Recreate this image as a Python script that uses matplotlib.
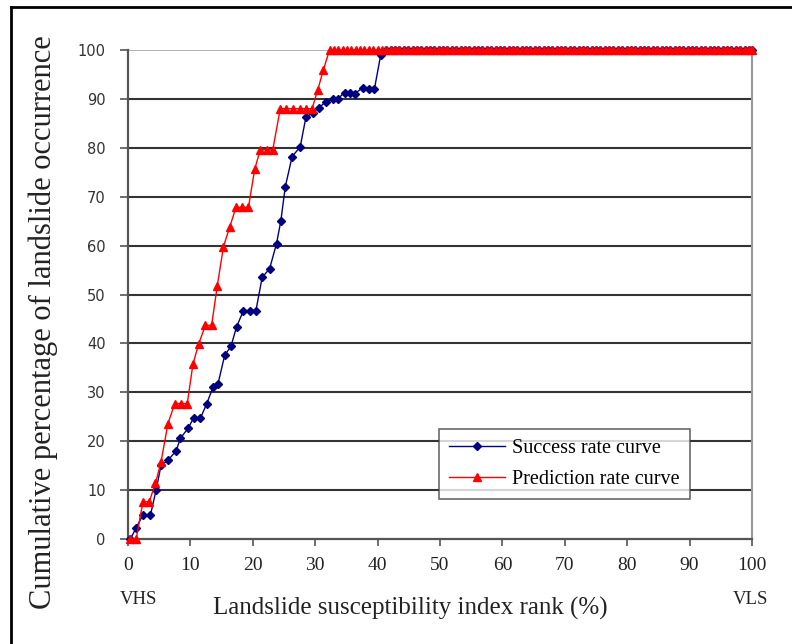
import matplotlib
matplotlib.use("Agg")
import matplotlib.pyplot as plt
from matplotlib.lines import Line2D

# ---------------------------------------------------------------------------
# data (rank %, cumulative %)
# ---------------------------------------------------------------------------

# flat 100 % segment shared by both curves (marker positions along the top)
top_rank = [32.3, 33.0, 33.7, 34.4, 35.1, 35.8, 36.5, 37.2, 37.9, 38.6, 39.3,
            40.0, 40.7, 41.4, 42.1, 42.8, 43.5, 44.2, 44.9, 45.6, 46.3,
            47.0, 47.7, 48.4, 49.1, 49.8, 50.5, 51.2, 51.9, 52.6, 53.3,
            54.0, 54.7, 55.4, 56.1, 56.8, 57.5, 58.2, 58.9, 59.6, 60.3,
            61.0, 61.7, 62.4, 63.1, 63.8, 64.5, 65.2, 65.9, 66.6, 67.3,
            68.0, 68.7, 69.4, 70.1, 70.8, 71.5, 72.2, 72.9, 73.6, 74.3,
            75.0, 75.7, 76.4, 77.1, 77.8, 78.5, 79.2, 79.9, 80.6, 81.3,
            82.0, 82.7, 83.4, 84.1, 84.8, 85.5, 86.2, 86.9, 87.6, 88.3,
            89.0, 89.7, 90.4, 91.1, 91.8, 92.5, 93.2, 93.9, 94.6, 95.3,
            96.0, 96.7, 97.4, 98.1, 98.8, 99.5, 100.0]
top_value = [100, 100, 100, 100, 100, 100, 100, 100, 100, 100, 100,
             100, 100, 100, 100, 100, 100, 100, 100, 100, 100,
             100, 100, 100, 100, 100, 100, 100, 100, 100, 100,
             100, 100, 100, 100, 100, 100, 100, 100, 100, 100,
             100, 100, 100, 100, 100, 100, 100, 100, 100, 100,
             100, 100, 100, 100, 100, 100, 100, 100, 100, 100,
             100, 100, 100, 100, 100, 100, 100, 100, 100, 100,
             100, 100, 100, 100, 100, 100, 100, 100, 100, 100,
             100, 100, 100, 100, 100, 100, 100, 100, 100, 100,
             100, 100, 100, 100, 100, 100, 100]

# success rate curve (rising part)
success_rank = [0.4, 1.3, 2.4, 3.6, 4.5, 5.3, 6.4, 7.7, 8.4, 9.6,
                10.5, 11.6, 12.6, 13.6, 14.4, 15.5, 16.5, 17.4, 18.5, 19.5,
                20.5, 21.5, 22.7, 23.8, 24.5, 25.2, 26.3, 27.6, 28.5, 29.6,
                30.6, 31.7, 32.8, 33.6, 34.7, 35.5, 36.3, 37.6, 38.7, 39.5,
                40.5]
success_value = [0, 2.3, 4.9, 4.9, 10.0, 15.1, 16.1, 18.0, 20.6, 22.6,
                 24.7, 24.7, 27.6, 31.0, 31.6, 37.6, 39.4, 43.4, 46.7, 46.7,
                 46.7, 53.5, 55.3, 60.4, 65.1, 72.0, 78.2, 80.2, 86.2, 87.2,
                 88.2, 89.4, 90.0, 90.0, 91.3, 91.3, 91.0, 92.3, 92.1, 92.1,
                 99.0]

# prediction rate curve (rising part)
prediction_rank = [0.4, 1.3, 2.4, 3.4, 4.4, 5.3, 6.4, 7.5, 8.5, 9.5,
                   10.4, 11.3, 12.4, 13.4, 14.3, 15.3, 16.3, 17.3, 18.3, 19.3,
                   20.3, 21.2, 22.2, 23.2, 24.4, 25.4, 26.4, 27.5, 28.5, 29.5,
                   30.4, 31.3]
prediction_value = [0, 0, 7.6, 7.6, 11.4, 15.8, 23.6, 27.7, 27.7, 27.7,
                    35.7, 39.8, 43.7, 43.7, 51.7, 59.8, 63.8, 67.8, 67.8, 67.8,
                    75.6, 79.6, 79.6, 79.6, 88.0, 88.0, 88.0, 88.0, 88.0, 88.0,
                    91.8, 95.9]

x_ticks = [0, 10, 20, 30, 40, 50, 60, 70, 80, 90, 100]
y_ticks = [0, 10, 20, 30, 40, 50, 60, 70, 80, 90, 100]

SERIF = ["Liberation Serif", "DejaVu Serif"]

# ---------------------------------------------------------------------------
# figure
# ---------------------------------------------------------------------------

fig = plt.figure(figsize=(7.92, 6.44), dpi=100)
ax = fig.add_axes([128 / 792, 1 - 539 / 644, 624 / 792, 489 / 644])

succ_x = success_rank + top_rank[13:]
succ_y = success_value + top_value[13:]
pred_x = prediction_rank + top_rank
pred_y = prediction_value + top_value

ax.plot(succ_x, succ_y, color="#000080", lw=1.0, marker="D", ms=4.2,
        mec="#000080", mfc="#000080", label="Success rate curve", zorder=3,
        clip_on=False)
ax.plot(pred_x, pred_y, color="#ff0000", lw=1.0, marker="^", ms=6,
        mec="#ff0000", mfc="#ff0000", label="Prediction rate curve", zorder=4,
        clip_on=False)

ax.set_xlim(0, 100)
ax.set_ylim(0, 100)
ax.set_xticks(x_ticks)
ax.set_yticks(y_ticks)

# horizontal gridlines only (excel style)
for v in y_ticks[1:-1]:
    ax.axhline(v, color="#333333", lw=1.5, zorder=1)
ax.axhline(100, color="#b0b0b0", lw=1.4, zorder=1)

ax.spines["top"].set_visible(False)
ax.spines["right"].set_color("#999999")
ax.spines["right"].set_linewidth(1.5)
ax.spines["left"].set_color("#555555")
ax.spines["left"].set_linewidth(1.6)
ax.spines["bottom"].set_color("#555555")
ax.spines["bottom"].set_linewidth(1.6)

ax.tick_params(axis="y", direction="out", length=6, width=1.2, color="#555555",
               labelsize=10.5, labelcolor="#333333", pad=10)
ax.tick_params(axis="x", direction="out", length=5, width=1.2, color="#555555",
               labelsize=14, labelcolor="#222222", pad=8)
for lab in ax.get_xticklabels():
    lab.set_family(SERIF)
for lab in ax.get_yticklabels():
    lab.set_family(["DejaVu Sans"])

ax.set_xlabel("Landslide susceptibility index rank (%)", family=SERIF,
              fontsize=18, color="#222222")
ax.set_ylabel("Cumulative percentage of landslide occurrence", family=SERIF,
              fontsize=22, color="#222222")
ax.xaxis.set_label_coords(0.452, -0.118)
ax.yaxis.set_label_coords(-0.112, 0.444)

fig.text(138 / 792, 1 - 599 / 644, "VHS", family=SERIF, fontsize=13.5,
         color="#222222", ha="center", va="center")
fig.text(750 / 792, 1 - 599 / 644, "VLS", family=SERIF, fontsize=13.5,
         color="#222222", ha="center", va="center")

leg = ax.legend(loc="upper left", bbox_to_anchor=(0.498, 0.225),
                borderaxespad=0, frameon=True, fancybox=False,
                prop={"family": SERIF, "size": 14.5}, handlelength=2.8,
                handletextpad=0.35, borderpad=0.5, labelspacing=0.6)
leg.get_frame().set_edgecolor("#444444")
leg.get_frame().set_linewidth(1.2)
leg.set_zorder(6)

# outer frame of the image (left + top edges)
fig.add_artist(Line2D([11 / 792, 11 / 792], [0, 1 - 7 / 644],
                      transform=fig.transFigure, color="black", lw=2))
fig.add_artist(Line2D([11 / 792, 1], [1 - 7 / 644, 1 - 7 / 644],
                      transform=fig.transFigure, color="black", lw=2))

fig.savefig("out.png", dpi=100)
